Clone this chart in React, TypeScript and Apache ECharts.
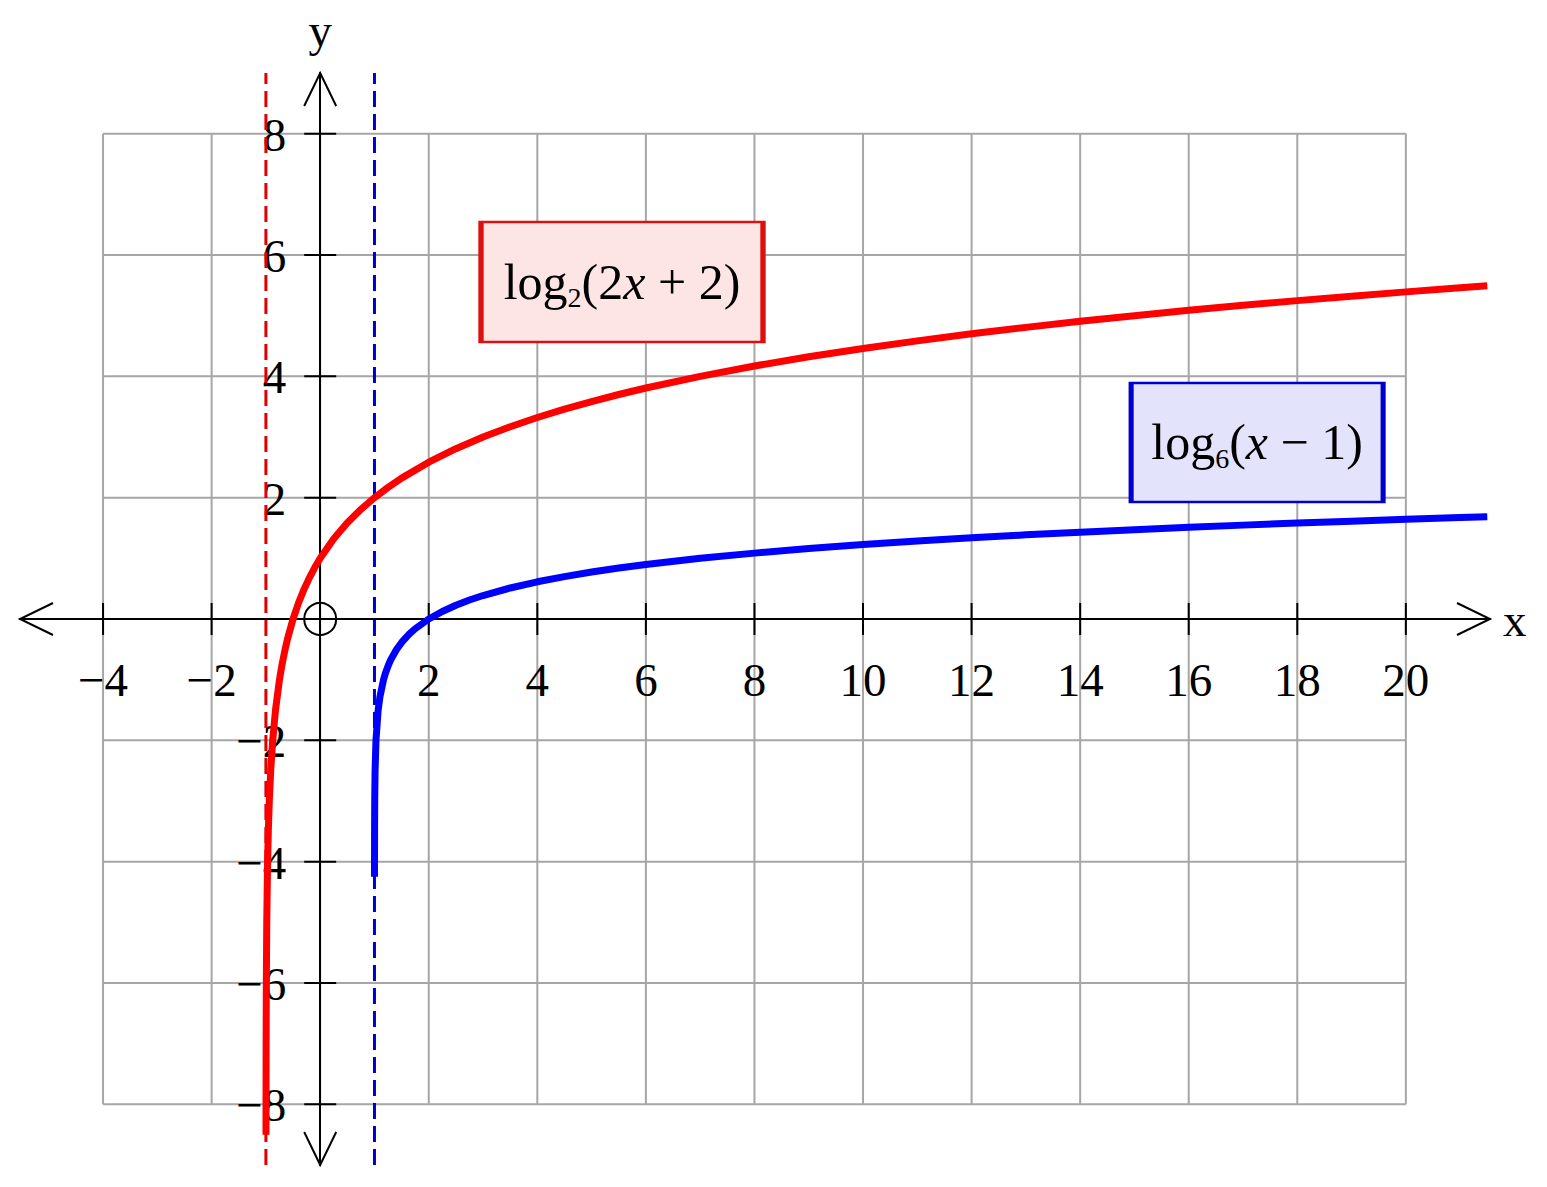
import React, { useEffect, useRef } from "react";
import * as echarts from "echarts";

// Axis extents (the arrows reach these values)
const X_EXTENT = [-5.53, 21.55];
const Y_EXTENT = [-9, 9];

// Grid / tick values
const xTicks = [-4, -2, 0, 2, 4, 6, 8, 10, 12, 14, 16, 18, 20];
const yTicks = [-8, -6, -4, -2, 0, 2, 4, 6, 8];
const xLabelValues = [-4, -2, 2, 4, 6, 8, 10, 12, 14, 16, 18, 20];
const yLabelValues = [-8, -6, -4, -2, 2, 4, 6, 8];
const axisNames = ["x", "y"];

// Curve samples: y = log2(2x + 2)
const redCurve: [number, number][] = [
  [-0.99862, -8.5], [-0.99805, -8], [-0.99609, -7], [-0.99219, -6], [-0.98438, -5],
  [-0.96875, -4], [-0.95581, -3.5], [-0.9375, -3], [-0.91161, -2.5], [-0.875, -2],
  [-0.82322, -1.5], [-0.75, -1], [-0.7, -0.737], [-0.64645, -0.5], [-0.6, -0.3219],
  [-0.5, 0], [-0.4, 0.263], [-0.29289, 0.5], [-0.2, 0.678], [-0.1, 0.848],
  [0, 1], [0.25, 1.3219], [0.5, 1.585], [0.75, 1.8074], [1, 2], [1.25, 2.1699],
  [1.5, 2.3219], [2, 2.585], [2.5, 2.8074], [3, 3], [3.5, 3.1699],
  [4, 3.3219], [4.5, 3.4594], [5, 3.585], [5.5, 3.7004], [6, 3.8074], [7, 4], [8, 4.1699],
  [9, 4.3219], [10, 4.4594], [11, 4.585], [12, 4.7004], [13, 4.8074], [14, 4.9069],
  [15, 5], [16, 5.0875], [17, 5.1699], [18, 5.2479], [19, 5.3219], [20, 5.3923],
  [21, 5.4594], [21.5, 5.4919],
];

// y = log6(x - 1)
const blueCurve: [number, number][] = [
  [1.000493, -4.25], [1.000772, -4], [1.00189, -3.5], [1.00463, -3], [1.01134, -2.5],
  [1.02778, -2], [1.06804, -1.5], [1.1, -1.2851], [1.16667, -1], [1.2, -0.8982],
  [1.26084, -0.75], [1.3, -0.672], [1.40825, -0.5], [1.5, -0.3869], [1.63894, -0.25],
  [1.75, -0.1606], [2, 0], [2.25, 0.1245], [2.5, 0.2263], [2.75, 0.3123], [3, 0.3869],
  [3.5, 0.5114], [4, 0.6131], [4.5, 0.6992], [5, 0.7737], [5.5, 0.8394],
  [6, 0.8982], [7, 1], [8, 1.086], [9, 1.1605], [10, 1.2263],
  [11, 1.2851], [12, 1.3383], [13, 1.3868], [14, 1.4315], [15, 1.4729], [16, 1.5114],
  [17, 1.5474], [18, 1.5812], [19, 1.6131], [20, 1.6433], [21, 1.6719], [21.5, 1.6857],
];

const redAsymptoteX = -1;
const blueAsymptoteX = 1;
const redLabelAt = [5.56, 5.555];
const blueLabelAt = [17.26, 2.91];

const SERIF = "'Liberation Serif', 'Times New Roman', serif";
const RED = "#ff0000";
const BLUE = "#0000ff";

const fmtNum = (v: number) => (v < 0 ? "\u2212" + Math.abs(v) : String(v));

const richFor = () => ({
  n: { fontFamily: SERIF, fontSize: 50, color: "#000", lineHeight: 60 },
  i: { fontFamily: SERIF, fontSize: 50, color: "#000", lineHeight: 60, fontStyle: "italic" },
  s: { fontFamily: SERIF, fontSize: 28, color: "#000", lineHeight: 28, verticalAlign: "bottom" },
});

export default function App() {
  const ref = useRef<HTMLDivElement>(null);

  useEffect(() => {
    if (!ref.current) return;
    const chart = echarts.init(ref.current, null, { renderer: "svg" });

    const lineStyle = (stroke: string) => ({ stroke, lineWidth: 2 });

    const gridV = {
      type: "custom",
      z: 1,
      silent: true,
      data: xTicks.map((v) => [v, 0]),
      renderItem: (params: any, api: any) => {
        const v = api.value(0);
        const p1 = api.coord([v, yTicks[0]]);
        const p2 = api.coord([v, yTicks[yTicks.length - 1]]);
        return {
          type: "line",
          shape: { x1: p1[0], y1: p1[1], x2: p2[0], y2: p2[1] },
          style: lineStyle("#a6a6a6"),
        };
      },
    };
    const gridH = {
      type: "custom",
      z: 1,
      silent: true,
      data: yTicks.map((v) => [0, v]),
      renderItem: (params: any, api: any) => {
        const v = api.value(1);
        const p1 = api.coord([xTicks[0], v]);
        const p2 = api.coord([xTicks[xTicks.length - 1], v]);
        return {
          type: "line",
          shape: { x1: p1[0], y1: p1[1], x2: p2[0], y2: p2[1] },
          style: lineStyle("#a6a6a6"),
        };
      },
    };
    const tickX = {
      type: "custom",
      z: 4,
      silent: true,
      data: xLabelValues.map((v) => [v, 0]),
      renderItem: (params: any, api: any) => {
        const v = api.value(0);
        const p = api.coord([v, 0]);
        return {
          type: "group",
          children: [
            {
              type: "line",
              shape: { x1: p[0], y1: p[1] - 16, x2: p[0], y2: p[1] + 16 },
              style: lineStyle("#000"),
            },
            {
              type: "text",
              x: p[0],
              y: p[1] + 61,
              style: {
                text: fmtNum(v),
                fontFamily: SERIF,
                fontSize: 47,
                fill: "#000",
                align: "center",
                verticalAlign: "middle",
              },
            },
          ],
        };
      },
    };
    const tickY = {
      type: "custom",
      z: 4,
      silent: true,
      data: yLabelValues.map((v) => [0, v]),
      renderItem: (params: any, api: any) => {
        const v = api.value(1);
        const p = api.coord([0, v]);
        return {
          type: "group",
          children: [
            {
              type: "line",
              shape: { x1: p[0] - 16, y1: p[1], x2: p[0] + 16, y2: p[1] },
              style: lineStyle("#000"),
            },
            {
              type: "text",
              x: p[0] - 34,
              y: p[1] + 1,
              style: {
                text: fmtNum(v),
                fontFamily: SERIF,
                fontSize: 47,
                fill: "#000",
                align: "right",
                verticalAlign: "middle",
              },
            },
          ],
        };
      },
    };
    const arrows = {
      type: "custom",
      z: 4,
      silent: true,
      data: [
        [X_EXTENT[1], 0],
        [X_EXTENT[0], 0],
        [0, Y_EXTENT[1]],
        [0, Y_EXTENT[0]],
      ],
      renderItem: (params: any, api: any) => {
        const p = api.coord([api.value(0), api.value(1)]);
        const L = 33;
        const W = 16;
        let pts: number[][];
        const children: any[] = [];
        switch (params.dataIndex) {
          case 0:
            pts = [[p[0] - L, p[1] - W], p, [p[0] - L, p[1] + W]];
            children.push({
              type: "text",
              x: p[0] + 13,
              y: p[1] + 1,
              style: { text: axisNames[0], fontFamily: SERIF, fontSize: 47, fill: "#000", align: "left", verticalAlign: "middle" },
            });
            break;
          case 1:
            pts = [[p[0] + L, p[1] - W], p, [p[0] + L, p[1] + W]];
            break;
          case 2:
            pts = [[p[0] - W, p[1] + L], p, [p[0] + W, p[1] + L]];
            children.push({
              type: "text",
              x: p[0],
              y: p[1] - 43,
              style: { text: axisNames[1], fontFamily: SERIF, fontSize: 47, fill: "#000", align: "center", verticalAlign: "middle" },
            });
            break;
          default:
            pts = [[p[0] - W, p[1] - L], p, [p[0] + W, p[1] - L]];
        }
        children.push({
          type: "polyline",
          shape: { points: pts },
          style: { stroke: "#000", lineWidth: 2, fill: "none" },
        });
        return { type: "group", children };
      },
    };
    const origin = {
      type: "custom",
      z: 4,
      silent: true,
      data: [[0, 0]],
      renderItem: (params: any, api: any) => {
        const p = api.coord([0, 0]);
        return {
          type: "circle",
          shape: { cx: p[0], cy: p[1], r: 16 },
          style: { stroke: "#000", lineWidth: 2, fill: "none" },
        };
      },
    };

    const option: any = {
      animation: false,
      backgroundColor: "#ffffff",
      grid: { left: 20, right: 57, top: 73, bottom: 22, containLabel: false, outerBoundsMode: "none" },
      xAxis: {
        type: "value",
        min: X_EXTENT[0],
        max: X_EXTENT[1],
        z: 3,
        axisLine: { show: true, onZero: true, lineStyle: { color: "#000", width: 2 } },
        axisTick: { show: false },
        splitLine: { show: false },
        axisLabel: { show: false },
      },
      yAxis: {
        type: "value",
        min: Y_EXTENT[0],
        max: Y_EXTENT[1],
        z: 3,
        axisLine: { show: true, onZero: true, lineStyle: { color: "#000", width: 2 } },
        axisTick: { show: false },
        splitLine: { show: false },
        axisLabel: { show: false },
      },
      series: [
        gridV,
        gridH,
        tickX,
        tickY,
        arrows,
        origin,
        {
          type: "line",
          z: 5,
          silent: true,
          symbol: "none",
          data: [
            [redAsymptoteX, Y_EXTENT[0]],
            [redAsymptoteX, Y_EXTENT[1]],
          ],
          lineStyle: { color: "#e00000", width: 3, type: [16, 7] },
        },
        {
          type: "line",
          z: 5,
          silent: true,
          symbol: "none",
          data: [
            [blueAsymptoteX, Y_EXTENT[0]],
            [blueAsymptoteX, Y_EXTENT[1]],
          ],
          lineStyle: { color: "#0000cc", width: 3, type: [16, 7] },
        },
        {
          type: "line",
          z: 10,
          silent: true,
          symbol: "none",
          data: redCurve,
          lineStyle: { color: RED, width: 7, join: "round", cap: "butt" },
          markPoint: {
            silent: true,
            symbol: "rect",
            symbolSize: [282, 120],
            itemStyle: { color: "#fde5e5", borderColor: "#dd1010", borderWidth: 3.5 },
            label: {
              show: true,
              position: "inside",
              formatter: () => "{n|log}{s|2}{n|(2}{i|x}{n| + 2)}",
              rich: richFor(),
            },
            data: [{ coord: redLabelAt }],
          },
        },
        {
          type: "line",
          z: 10,
          silent: true,
          symbol: "none",
          data: blueCurve,
          lineStyle: { color: BLUE, width: 7, join: "round", cap: "butt" },
          markPoint: {
            silent: true,
            symbol: "rect",
            symbolSize: [252, 119],
            itemStyle: { color: "#e3e3fb", borderColor: "#0000cc", borderWidth: 3.5 },
            label: {
              show: true,
              position: "inside",
              formatter: () => "{n|log}{s|6}{n|(}{i|x}{n| \u2212 1)}",
              rich: richFor(),
            },
            data: [{ coord: blueLabelAt }],
          },
        },
      ],
    };

    chart.setOption(option);
    return () => chart.dispose();
  }, []);

  return (
    <div
      ref={ref}
      style={{ position: "absolute", left: 0, top: 0, width: 1547, height: 1187, background: "#fff" }}
    />
  );
}
